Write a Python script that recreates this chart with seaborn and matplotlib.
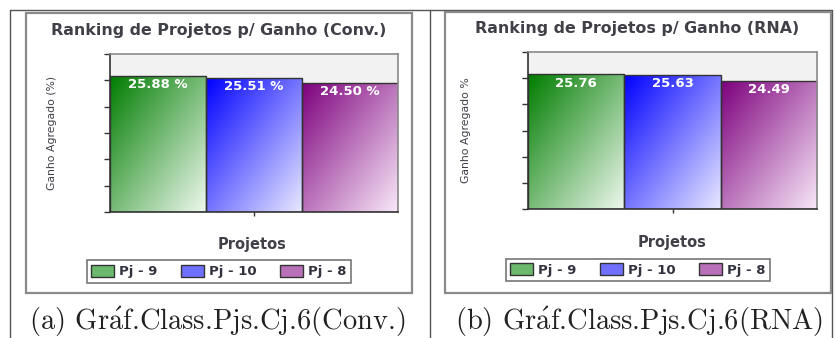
import numpy as np
import pandas as pd
import matplotlib
matplotlib.use("Agg")
import matplotlib.pyplot as plt
from matplotlib.patches import Rectangle, Patch
from matplotlib.lines import Line2D
import seaborn as sns

# ---- data ----
projects = ["Pj - 9", "Pj - 10", "Pj - 8"]
gain_conv = [25.88, 25.51, 24.50]
gain_rna = [25.76, 25.63, 24.49]
label_fmt_conv = "{:.2f} %"
label_fmt_rna = "{:.2f}"
titles = ["Ranking de Projetos p/ Ganho (Conv.)", "Ranking de Projetos p/ Ganho (RNA)"]
ylabels = ["Ganho Agregado (%)", "Ganho Agregado %"]
captions = [r"(a) Gr$\mathrm{\acute{a}}$f.Class.Pjs.Cj.6(Conv.)",
            r"(b) Gr$\mathrm{\acute{a}}$f.Class.Pjs.Cj.6(RNA)"]

# gradient end points (top-left dark -> bottom-right light)
grad_start = {"Pj - 9": (0, 125, 0), "Pj - 10": (0, 0, 255), "Pj - 8": (125, 0, 125)}
grad_end = {"Pj - 9": (238, 248, 238), "Pj - 10": (232, 232, 255), "Pj - 8": (248, 232, 248)}
swatch = {"Pj - 9": "#6cb86c", "Pj - 10": "#7070ff", "Pj - 8": "#b870b8"}

sns.set_theme(style="white")
plt.rcParams["mathtext.fontset"] = "cm"
plt.rcParams["font.family"] = ["DejaVu Sans"]

W, H = 835, 338
fig = plt.figure(figsize=(W / 100, H / 100), dpi=100)
fig.patch.set_facecolor("white")


def fx(px):
    return px / W


def fy(py):
    return 1 - py / H


# table frame lines
for xs, ys in [((10, 832), (10, 10)), ((10, 10), (10, 338)),
               ((430, 430), (10, 338)), ((832, 832), (10, 338))]:
    fig.add_artist(Line2D([fx(xs[0]), fx(xs[1])], [fy(ys[0]), fy(ys[1])],
                          color="#555555", lw=1.0, zorder=-2))

panels = [
    dict(vals=gain_conv, fmt=label_fmt_conv, box=(26, 13, 412, 293),
         ax=(110, 54, 398, 212), title=(219, 31), xl=(252, 245), yl=(52, 133),
         leg=(219, 271.5), cap=(217, 322)),
    dict(vals=gain_rna, fmt=label_fmt_rna, box=(445, 12, 831, 293),
         ax=(528, 52, 817, 209), title=(637, 28), xl=(672, 242), yl=(466, 130),
         leg=(638, 270), cap=(639, 322)),
]

for i, p in enumerate(panels):
    x0, y0, x1, y1 = p["box"]
    fig.add_artist(Rectangle((fx(x0), fy(y1)), fx(x1 - x0), (y1 - y0) / H,
                             transform=fig.transFigure, facecolor="white",
                             edgecolor="#8a8a8a", lw=1.6, zorder=-1))
    a0, b0, a1, b1 = p["ax"]
    ax = fig.add_axes([fx(a0), fy(b1), fx(a1 - a0), (b1 - b0) / H])
    ax.set_facecolor("#f2f2f2")

    df = pd.DataFrame({"grupo": [""] * 3, "Projeto": projects, "Ganho": p["vals"]})
    sns.barplot(data=df, x="grupo", y="Ganho", hue="Projeto", hue_order=projects,
                palette=swatch, width=1.0, dodge=True, legend=False,
                edgecolor="#333333", linewidth=1.0, ax=ax)

    ax.set_xlim(-0.5, 0.5)
    ax.set_ylim(0, 30)

    # diagonal gradient fill clipped to each bar
    nx, ny = 60, 120
    u = np.linspace(0, 1, nx)[None, :]
    v = np.linspace(0, 1, ny)[:, None]
    t = (u + v) / 2
    for patch, name in zip(ax.patches, projects):
        s = np.array(grad_start[name]) / 255
        e = np.array(grad_end[name]) / 255
        img = s[None, None, :] + (e - s)[None, None, :] * t[:, :, None]
        bx, by = patch.get_x(), patch.get_y()
        bw, bh = patch.get_width(), patch.get_height()
        im = ax.imshow(img, extent=(bx, bx + bw, by, by + bh), origin="upper",
                       aspect="auto", interpolation="bilinear", zorder=0.9)
        im.set_clip_path(patch)
        patch.set_facecolor("none")
        patch.set_zorder(1.5)
        ax.annotate(p["fmt"].format(bh), xy=(bx + bw / 2, bh), xytext=(0, -9),
                    textcoords="offset pixels", ha="center", va="center",
                    color="white", fontsize=9.5, fontweight="bold", zorder=3)

    ax.set_xlim(-0.5, 0.5)
    ax.set_ylim(0, 30)
    ax.set_yticks(np.arange(0, 31, 5))
    ax.set_yticklabels([])
    ax.set_xticks([0])
    ax.set_xticklabels([])
    ax.set_xlabel("")
    ax.set_ylabel("")
    ax.tick_params(axis="y", left=True, length=4, width=1, color="#333333")
    ax.tick_params(axis="x", bottom=True, length=3, width=1, color="#333333")
    for side in ["left", "bottom"]:
        ax.spines[side].set_color("#333333")
        ax.spines[side].set_linewidth(1.2)
    for side in ["top", "right"]:
        ax.spines[side].set_color("#8a8a8a")
        ax.spines[side].set_linewidth(1.2)

    fig.text(fx(p["title"][0]), fy(p["title"][1]), titles[i], ha="center", va="center",
             fontsize=11.4, fontweight="bold", color="#404048")
    fig.text(fx(p["xl"][0]), fy(p["xl"][1]), "Projetos", ha="center", va="center",
             fontsize=10.5, fontweight="bold", color="#404048")
    fig.text(fx(p["yl"][0]), fy(p["yl"][1]), ylabels[i], ha="center", va="center",
             rotation=90, fontsize=7.8, color="#404048",
             family=["Liberation Sans Narrow", "DejaVu Sans"])

    handles = [Patch(facecolor=swatch[n], edgecolor="#333333", lw=1.0, label=n)
               for n in projects]
    leg = fig.legend(handles=handles, ncol=3, loc="center",
                     bbox_to_anchor=(fx(p["leg"][0]), fy(p["leg"][1])),
                     frameon=True, fancybox=False, edgecolor="#555555",
                     prop=dict(size=9.5, weight="bold"), handlelength=1.7,
                     handleheight=1.0, handletextpad=0.4, columnspacing=1.8,
                     borderpad=0.35, borderaxespad=0)
    leg.get_frame().set_linewidth(1.2)
    for txt in leg.get_texts():
        txt.set_color("#333340")

    fig.text(fx(p["cap"][0]), fy(p["cap"][1]), captions[i], ha="center", va="center",
             fontsize=20.5, color="#222222", family=["cmr10", "DejaVu Serif"])

fig.savefig("out.png", dpi=100)
